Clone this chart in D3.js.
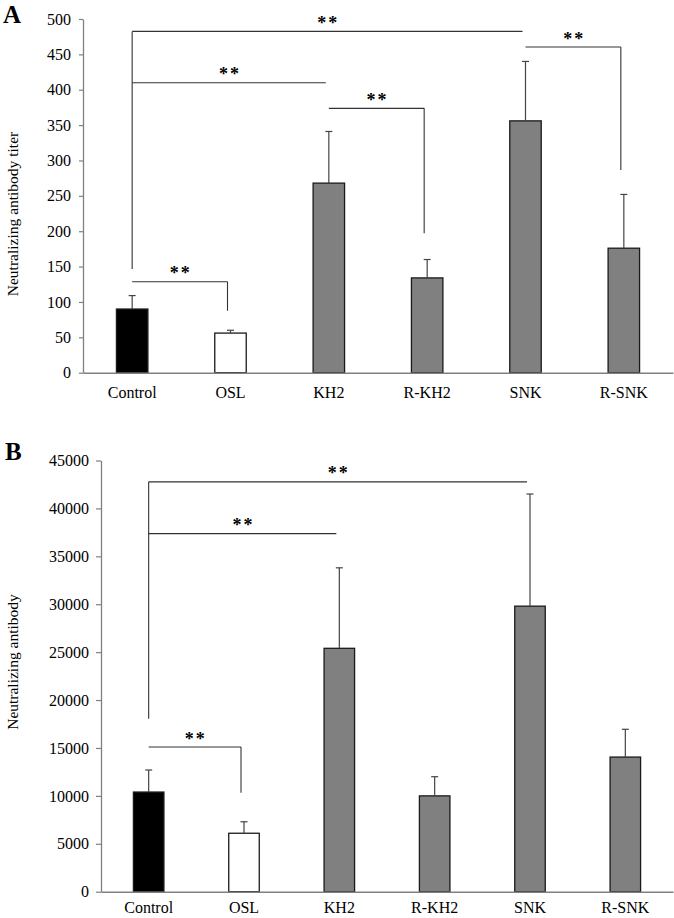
<!DOCTYPE html>
<html><head><meta charset="utf-8">
<script src="https://cdn.jsdelivr.net/npm/d3@7"></script>
<style>body{margin:0;background:#fff}svg{display:block}</style>
</head><body>
<svg id="chart" width="674" height="918"></svg>
<script>
const categories = ["Control","OSL","KH2","R-KH2","SNK","R-SNK"];
const fills = ["#000000","#ffffff","#808080","#808080","#808080","#808080"];

const valuesA = [90, 56, 268, 134, 356, 176];
const errorsA = [19, 4, 73, 26, 84, 76];
const ticksA = [0,50,100,150,200,250,300,350,400,450,500];
// brackets: [from, to, level, leftDropTo, rightDropTo]
const bracketsA = [
  ["Control","SNK",482.5,146.6,null],
  ["Control","KH2",409.8,null,null],
  ["KH2","R-KH2",373.7,null,197],
  ["SNK","R-SNK",460.4,null,286.5],
  ["Control","OSL",128.6,null,87.6]
];

const valuesB = [10400, 6100, 25400, 10000, 29800, 14050];
const errorsB = [2300, 1200, 8400, 2000, 11700, 2900];
const ticksB = [0,5000,10000,15000,20000,25000,30000,35000,40000,45000];
const bracketsB = [
  ["Control","SNK",42770,18060,null],
  ["Control","KH2",37370,null,null],
  ["Control","OSL",15100,null,10330]
];

const svg = d3.select("#chart");
const serif = "'Liberation Serif','Times New Roman',serif";

function panel(o){
  const g = svg.append("g");
  const x = d3.scaleBand().domain(categories).range([o.x0, o.x1])
    .paddingInner(0.68).paddingOuter(0.34);
  const y = d3.scaleLinear().domain([0, o.max]).range([o.y0, o.y1]);

  // y axis
  const ya = g.append("g").attr("transform",`translate(${o.x0},0)`)
    .call(d3.axisLeft(y).tickValues(o.ticks).tickFormat(d3.format("d"))
      .tickSize(o.tick).tickPadding(o.pad).tickSizeOuter(0));
  ya.select(".domain").attr("stroke","#808080").attr("stroke-width",1.3);
  ya.selectAll(".tick line").attr("stroke","#808080").attr("stroke-width",1.2);
  ya.selectAll(".tick text").attr("font-family",serif).attr("font-size",16).attr("fill","#000");

  // bars
  g.selectAll("rect.bar").data(o.values).join("rect")
    .attr("x",(d,i)=>x(categories[i]))
    .attr("width",x.bandwidth())
    .attr("y",d=>y(d))
    .attr("height",d=>y(0)-y(d))
    .attr("fill",(d,i)=>fills[i])
    .attr("stroke","#1a1a1a").attr("stroke-width",1.3);

  // error bars
  const cap = 3.5;
  o.values.forEach((v,i)=>{
    const cx = x(categories[i]) + x.bandwidth()/2;
    g.append("line").attr("x1",cx).attr("x2",cx).attr("y1",y(v)).attr("y2",y(v+o.errors[i]))
      .attr("stroke","#444").attr("stroke-width",1.2);
    g.append("line").attr("x1",cx-cap).attr("x2",cx+cap).attr("y1",y(v+o.errors[i])).attr("y2",y(v+o.errors[i]))
      .attr("stroke","#444").attr("stroke-width",1.2);
  });

  // x axis
  const xa = g.append("g").attr("transform",`translate(0,${o.y0})`)
    .call(d3.axisBottom(x).tickSize(0).tickPadding(o.xpad).tickSizeOuter(0));
  xa.select(".domain").attr("stroke","#808080").attr("stroke-width",1.5);
  xa.selectAll(".tick text").attr("font-family",serif).attr("font-size",16).attr("fill","#000");

  // brackets
  o.brackets.forEach(b=>{
    const xa1 = x(b[0]) + x.bandwidth()/2, xa2 = x(b[1]) + x.bandwidth()/2 - 3;
    const yl = y(b[2]);
    g.append("line").attr("x1",xa1).attr("x2",xa2).attr("y1",yl).attr("y2",yl)
      .attr("stroke","#333").attr("stroke-width",1.1);
    if(b[3]!==null) g.append("line").attr("x1",xa1).attr("x2",xa1).attr("y1",yl).attr("y2",y(b[3]))
      .attr("stroke","#333").attr("stroke-width",1.1);
    if(b[4]!==null) g.append("line").attr("x1",xa2).attr("x2",xa2).attr("y1",yl).attr("y2",y(b[4]))
      .attr("stroke","#333").attr("stroke-width",1.1);
    g.append("text").attr("x",(xa1+xa2)/2 + 1).attr("y",yl-2.5).attr("text-anchor","middle")
      .attr("font-family",serif).attr("font-weight","bold").attr("font-size",18)
      .attr("letter-spacing",2).text("**");
  });

  // y label
  g.append("text").attr("transform",`translate(${o.lx},${o.ly}) rotate(-90)`)
    .attr("text-anchor","middle").attr("dominant-baseline","central")
    .attr("font-family",serif).attr("font-size",15.5).text(o.ylabel);

  // panel letter
  g.append("text").attr("x",o.px).attr("y",o.py).attr("font-family",serif)
    .attr("font-weight","bold").attr("font-size",25).text(o.letter);
}

panel({x0:83,x1:673,y0:372.7,y1:19,max:500,ticks:ticksA,tick:4,pad:8,xpad:14,
  values:valuesA,errors:errorsA,brackets:bracketsA,ylabel:"Neutralizing antibody titer",
  lx:12,ly:214,letter:"A",px:3,py:22.5});
panel({x0:101,x1:673,y0:891.7,y1:460.5,max:45000,ticks:ticksB,tick:5,pad:7,xpad:10,
  values:valuesB,errors:errorsB,brackets:bracketsB,ylabel:"Neutralizing antibody",
  lx:12,ly:662,letter:"B",px:5,py:460});
</script>
</body></html>
